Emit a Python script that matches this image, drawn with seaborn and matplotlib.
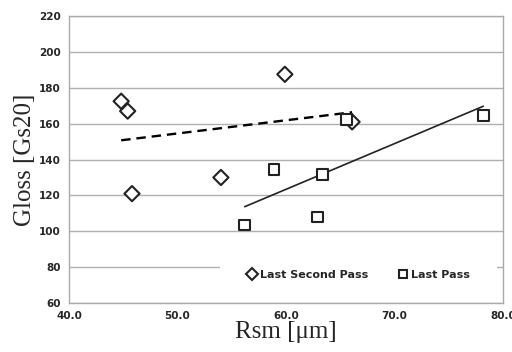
import numpy as np
import pandas as pd
import matplotlib
matplotlib.use("Agg")
import matplotlib.pyplot as plt
from matplotlib.patches import Rectangle
import seaborn as sns

# Data
lsp_rsm = [44.8, 45.4, 45.8, 54.0, 59.9, 66.1]
lsp_gloss = [172.5, 167.0, 121.0, 130.0, 187.5, 161.0]
lp_rsm = [56.2, 58.9, 62.9, 63.4, 65.6, 78.2]
lp_gloss = [103.5, 134.5, 108.0, 131.5, 162.5, 164.5]
series_names = ["Last Second Pass", "Last Pass"]
x_ticks = [40.0, 50.0, 60.0, 70.0, 80.0]
y_ticks = [60, 80, 100, 120, 140, 160, 180, 200, 220]

df = pd.DataFrame({
    "Rsm": lsp_rsm + lp_rsm,
    "Gloss": lsp_gloss + lp_gloss,
    "series": [series_names[0]] * len(lsp_rsm) + [series_names[1]] * len(lp_rsm),
})

sns.set_style("white")
fig = plt.figure(figsize=(5.12, 3.52), dpi=100)
ax = fig.add_axes([0.135, 0.139, 0.847, 0.8155])

# trend lines
sns.regplot(data=df[df.series == series_names[0]], x="Rsm", y="Gloss", ax=ax,
            scatter=False, ci=None, color="black",
            line_kws=dict(linestyle=(0, (4, 2.5)), linewidth=1.7))
sns.regplot(data=df[df.series == series_names[1]], x="Rsm", y="Gloss", ax=ax,
            scatter=False, ci=None, color="#222222",
            line_kws=dict(linestyle="-", linewidth=1.2))

sns.scatterplot(data=df, x="Rsm", y="Gloss", style="series",
                markers={series_names[0]: "D", series_names[1]: "s"},
                facecolor="white", edgecolor="#222222", linewidth=1.5,
                s=60, ax=ax, legend=True, zorder=5)

ax.set_xlim(40, 80)
ax.set_ylim(60, 220)
ax.set_xticks(x_ticks)
ax.set_xticklabels([f"{v:.1f}" for v in x_ticks], fontsize=7.5, fontweight="bold")
ax.set_yticks(y_ticks)
ax.set_yticklabels([str(v) for v in y_ticks], fontsize=7.5, fontweight="bold")
ax.yaxis.grid(True, color="#b0b0b0", linewidth=1.0)
ax.set_axisbelow(True)
for sp in ax.spines.values():
    sp.set_color("#aaaaaa")
    sp.set_linewidth(1.0)
ax.tick_params(axis="both", direction="out", length=3, width=1, color="#aaaaaa", pad=3)

ax.set_xlabel("Rsm [\u03bcm]", family="Liberation Serif", fontsize=18, labelpad=0)
ax.set_ylabel("Gloss [Gs20]", family="Liberation Serif", fontsize=18, labelpad=2)

# white legend background covering the gridline
ax.add_patch(Rectangle((0.348, 0.085), 0.638, 0.075, transform=ax.transAxes,
                       facecolor="white", edgecolor="none", zorder=1.5))

handles, labels = ax.get_legend_handles_labels()
leg = ax.legend(handles, labels, loc="center", bbox_to_anchor=(0.665, 0.097), ncol=2,
                frameon=False, prop=dict(size=8, weight="bold"), handletextpad=0.1,
                columnspacing=2.5, borderpad=0.6, handlelength=1.2, markerscale=0.8)
leg.set_zorder(4)

fig.savefig("out.png", dpi=100)
